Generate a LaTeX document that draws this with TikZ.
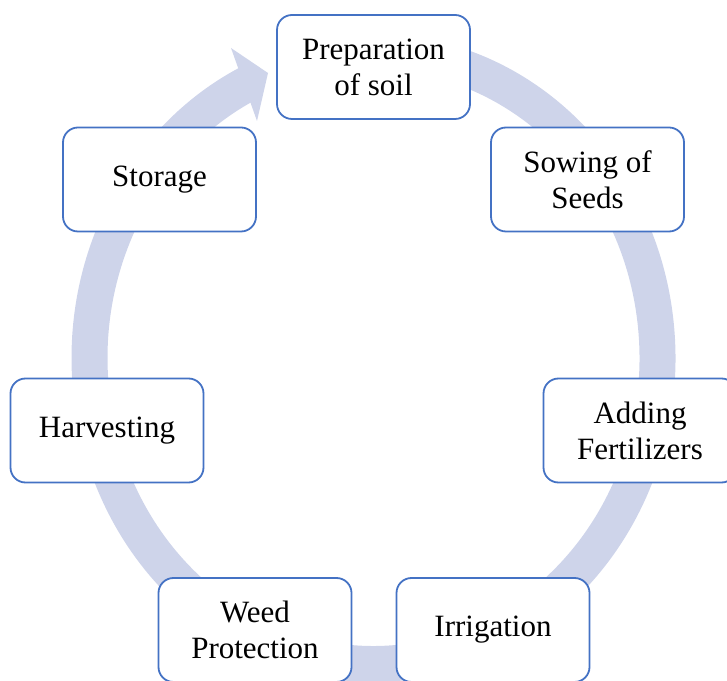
\documentclass[tikz,border=0pt]{standalone}
\usepackage{fontspec}
\setmainfont{Liberation Serif}
\definecolor{boxblue}{RGB}{68,114,196}
\definecolor{ringblue}{RGB}{206,212,234}
\begin{document}
\begin{tikzpicture}[x=1pt,y=1pt,
  stage/.style={draw=boxblue, line width=1.8pt, fill=white, rounded corners=15pt,
    minimum width=193pt, minimum height=104pt, align=center, inner sep=0pt,
    font=\fontsize{31}{36}\selectfont}]
\useasboundingbox (0,0) rectangle (727,680);
\clip (0,0) rectangle (727,680);
% circular arrow
\draw[ringblue, line width=36pt] (373.5,322) ++(95:284 and 306)
  arc[start angle=95, end angle=-245, x radius=284, y radius=306];
\fill[ringblue] (231,632) -- (268,607) -- (257,559) -- cycle;
% stages
\node[stage] (prep) at (373.5,613) {Preparation\\of soil};
\node[stage] (sow)  at (587.5,500.5) {Sowing of\\Seeds};
\node[stage] (add)  at (640,249.5) {Adding\\Fertilizers};
\node[stage] (irr)  at (493,50) {Irrigation};
\node[stage] (weed) at (255,50) {Weed\\Protection};
\node[stage] (harv) at (107,249.5) {Harvesting};
\node[stage] (stor) at (159.5,500.5) {Storage};
\end{tikzpicture}
\end{document}
